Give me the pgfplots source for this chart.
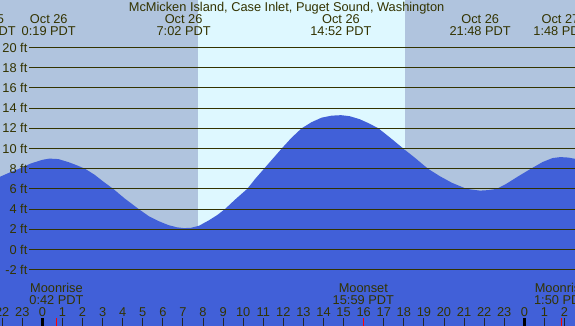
\documentclass[border=0pt]{standalone}
\usepackage{pgfplots}
\pgfplotsset{compat=1.18}
\usepackage{fontspec}
\setmainfont{Liberation Sans}
\definecolor{night}{RGB}{176,196,222}
\definecolor{day}{RGB}{222,248,255}
\definecolor{tide}{RGB}{65,96,216}
\definecolor{ink}{RGB}{51,51,0}
\begin{document}
\begin{tikzpicture}[lab/.style={font=\fontsize{12.8}{14}\selectfont, text=ink, inner sep=0pt}]
\useasboundingbox (0,0) rectangle (575pt,326pt);
\clip (0,0) rectangle (575pt,326pt);
\begin{axis}[at={(0,0)}, anchor=south west, scale only axis, width=575pt, height=326pt,
  xmin=-2.111, xmax=26.524, ymin=-7.57, ymax=24.70, hide axis, clip=false]
% background night / day
\addplot[draw=none, fill=night] coordinates {(-3,-9) (-3,26) (28,26) (28,-9)} -- cycle;
\addplot[draw=none, fill=day] coordinates {(7.75,-9) (7.75,26) (18.05,26) (18.05,-9)} -- cycle;
% tide area
\addplot[draw=none, fill=tide] coordinates {
(-2.3,-9) (-2.3,7.0) (-2.11,7.2) (-1.6,7.65) (-1.15,8.0) (-0.6,8.5) (0.0,8.88) (0.35,9.0)
(0.8,8.95) (1.3,8.65) (1.7,8.35) (2.12,8.0) (2.6,7.4) (3.05,6.7) (3.53,6.0) (4.1,5.05)
(4.8,4.0) (5.3,3.3) (5.8,2.8) (6.3,2.4) (6.7,2.2) (7.05,2.12) (7.4,2.15) (7.8,2.35)
(8.3,2.9) (8.7,3.4) (9.09,4.0) (9.6,4.95) (10.2,6.0) (10.6,7.0) (11.04,8.0) (11.5,9.05)
(11.92,10.0) (12.4,11.05) (12.91,12.0) (13.4,12.6) (13.9,13.05) (14.4,13.25) (14.87,13.3)
(15.3,13.2) (15.8,12.9) (16.25,12.5) (16.73,12.0) (17.3,11.1) (17.97,10.0) (18.6,9.0)
(19.2,8.0) (19.8,7.25) (20.4,6.6) (21.13,6.0) (21.8,5.83) (22.2,5.88) (22.62,6.0)
(23.1,6.5) (23.7,7.25) (24.33,8.0) (24.9,8.65) (25.4,9.05) (25.8,9.15) (26.2,9.1)
(26.6,8.95) (26.8,8.85) (26.8,-9)} -- cycle;
% horizontal lines and labels
\pgfplotsinvokeforeach{-2,0,2,4,6,8,10,12,14,16,18,20}{
  \addplot[ink, line width=1.1pt] coordinates {(-0.65,#1) (27,#1)};
  \node[lab, anchor=east] at (axis cs:-0.74,#1) {#1 ft};
}
% hour ticks
\pgfplotsinvokeforeach{-2,-1,1,2,3,4,5,6,7,8,9,10,11,12,13,14,15,16,17,18,19,20,21,22,23,25,26}{
  \addplot[black!85, line width=1pt] coordinates {(#1,-6.78) (#1,-7.7)};
}
\addplot[black, line width=3pt] coordinates {(0,-6.78) (0,-7.7)};
\addplot[black, line width=3pt] coordinates {(24,-6.78) (24,-7.7)};
\addplot[red, line width=1pt] coordinates {(0.7,-6.78) (0.7,-7.7)};
\addplot[red, line width=1pt] coordinates {(15.983,-6.78) (15.983,-7.7)};
\addplot[red, line width=1pt] coordinates {(25.833,-6.78) (25.833,-7.7)};
% hour labels
\node[lab, anchor=base] at (axis cs:-2,-6.65) {22};
\node[lab, anchor=base] at (axis cs:-1,-6.65) {23};
\node[lab, anchor=base] at (axis cs:0,-6.65) {0};
\node[lab, anchor=base] at (axis cs:1,-6.65) {1};
\node[lab, anchor=base] at (axis cs:2,-6.65) {2};
\node[lab, anchor=base] at (axis cs:3,-6.65) {3};
\node[lab, anchor=base] at (axis cs:4,-6.65) {4};
\node[lab, anchor=base] at (axis cs:5,-6.65) {5};
\node[lab, anchor=base] at (axis cs:6,-6.65) {6};
\node[lab, anchor=base] at (axis cs:7,-6.65) {7};
\node[lab, anchor=base] at (axis cs:8,-6.65) {8};
\node[lab, anchor=base] at (axis cs:9,-6.65) {9};
\node[lab, anchor=base] at (axis cs:10,-6.65) {10};
\node[lab, anchor=base] at (axis cs:11,-6.65) {11};
\node[lab, anchor=base] at (axis cs:12,-6.65) {12};
\node[lab, anchor=base] at (axis cs:13,-6.65) {13};
\node[lab, anchor=base] at (axis cs:14,-6.65) {14};
\node[lab, anchor=base] at (axis cs:15,-6.65) {15};
\node[lab, anchor=base] at (axis cs:16,-6.65) {16};
\node[lab, anchor=base] at (axis cs:17,-6.65) {17};
\node[lab, anchor=base] at (axis cs:18,-6.65) {18};
\node[lab, anchor=base] at (axis cs:19,-6.65) {19};
\node[lab, anchor=base] at (axis cs:20,-6.65) {20};
\node[lab, anchor=base] at (axis cs:21,-6.65) {21};
\node[lab, anchor=base] at (axis cs:22,-6.65) {22};
\node[lab, anchor=base] at (axis cs:23,-6.65) {23};
\node[lab, anchor=base] at (axis cs:24,-6.65) {0};
\node[lab, anchor=base] at (axis cs:25,-6.65) {1};
\node[lab, anchor=base] at (axis cs:26,-6.65) {2};
% moon labels
\node[lab, anchor=base] at (axis cs:0.7,-4.28) {Moonrise};
\node[lab, anchor=base] at (axis cs:0.7,-5.40) {0:42 PDT};
\node[lab, anchor=base] at (axis cs:15.983,-4.28) {Moonset};
\node[lab, anchor=base] at (axis cs:15.983,-5.40) {15:59 PDT};
\node[lab, anchor=base] at (axis cs:25.833,-4.28) {Moonrise};
\node[lab, anchor=base] at (axis cs:25.833,-5.40) {1:50 PDT};
% title and tide labels
\node[lab, anchor=base] at (axis cs:12.16,23.61) {McMicken Island, Case Inlet, Puget Sound, Washington};
\node[lab, anchor=base] at (axis cs:-2.85,22.33) {Oct 25};
\node[lab, anchor=base] at (axis cs:-2.85,21.14) {21:10 PDT};
\node[lab, anchor=base] at (axis cs:0.317,22.33) {Oct 26};
\node[lab, anchor=base] at (axis cs:0.317,21.14) {0:19 PDT};
\node[lab, anchor=base] at (axis cs:7.033,22.33) {Oct 26};
\node[lab, anchor=base] at (axis cs:7.033,21.14) {7:02 PDT};
\node[lab, anchor=base] at (axis cs:14.867,22.33) {Oct 26};
\node[lab, anchor=base] at (axis cs:14.867,21.14) {14:52 PDT};
\node[lab, anchor=base] at (axis cs:21.8,22.33) {Oct 26};
\node[lab, anchor=base] at (axis cs:21.8,21.14) {21:48 PDT};
\node[lab, anchor=base] at (axis cs:25.8,22.33) {Oct 27};
\node[lab, anchor=base] at (axis cs:25.8,21.14) {1:48 PDT};
\end{axis}
\end{tikzpicture}
\end{document}
